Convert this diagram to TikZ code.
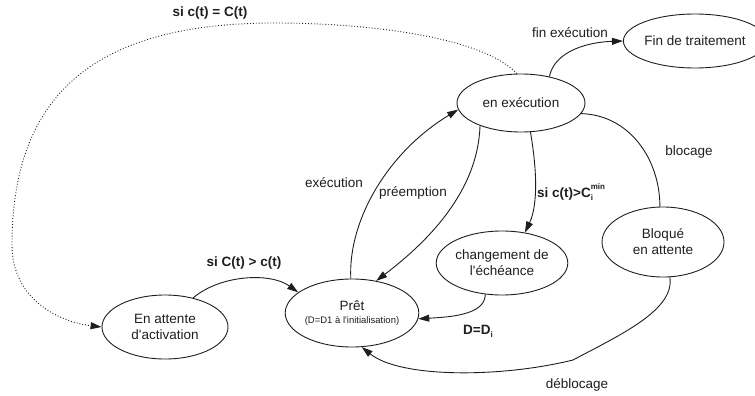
\documentclass[tikz,border=0pt]{standalone}
\usepackage{fontspec}
\setmainfont{Liberation Sans}[Ligatures=TeXOff]
\usetikzlibrary{shapes.geometric,arrows.meta}
\definecolor{ink}{HTML}{1E1E1E}
\begin{document}
\begin{tikzpicture}[x=1pt,y=-1pt,
  state/.style={ellipse,draw=ink,line width=0.9pt,inner sep=0pt,align=center,
    text=ink,font=\fontsize{13.5}{16}\selectfont},
  edge/.style={draw=ink,line width=0.9pt},
  arr/.style={edge,-{Triangle[length=11pt,width=7pt]}},
  lbl/.style={text=ink,font=\fontsize{13.5}{16}\selectfont,inner sep=0pt},
  blbl/.style={lbl,font=\fontsize{13.5}{16}\selectfont\bfseries}]
\useasboundingbox (0,0) rectangle (755,396);

% states
\node[state,minimum width=128pt,minimum height=58pt] (exec) at (521,103) {en exécution};
\node[state,minimum width=124pt,minimum height=54pt] (fin) at (695,41) {Fin de traitement};
\node[state,minimum width=126pt,minimum height=64pt] (att) at (165,327) {En attente\\d'activation};
\node[state,minimum width=116pt,minimum height=68pt] (pret) at (352,313)
  {Prêt\\[-3pt]{\fontsize{9.5}{11}\selectfont (D=D1 à l'initialisation)}};
\node[state,minimum width=118pt,minimum height=64pt] (chg) at (502,263) {changement de\\l'échéance};
\node[state,minimum width=122pt,minimum height=70pt] (bloq) at (663,242) {Bloqué\\en attente};

% transitions
\coordinate (top) at (275,23);
\coordinate (left) at (12,245);
\draw[edge,dotted,-{Triangle[length=11pt,width=7pt]}]
  (exec.98) .. controls (480,35) and (360,23) .. (top)
  .. controls (100,23) and (12,90) .. (left)
  .. controls (12,300) and (60,322) .. (att.180);
\node[blbl] (lcc) at (210,13) {si c(t) = C(t)};

\draw[arr] (exec.43) .. controls (555,50) and (590,42) .. (fin.180);
\node[lbl] (lfin) at (570,33) {fin exécution};

\draw[arr] (att.46) .. controls (220,275) and (270,272) .. (pret.159);
\node[blbl] (lact) at (244,263) {si C(t) > c(t)};

\draw[arr] (pret.92) .. controls (348,220) and (388,152) .. (exec.186);
\node[lbl] (lexe) at (334,183) {exécution};

\draw[arr] (exec.209) .. controls (478,190) and (430,240) .. (pret.53);
\node[lbl] (lpre) at (413,193) {préemption};

\draw[arr] (exec.288) .. controls (537,170) and (538,205) .. (chg.53);
\node[blbl,anchor=west] (lmin) at (537,192)
  {si c(t)>C\rlap{\raisebox{-0.45ex}{\fontsize{8}{9}\selectfont i}}\raisebox{1.1ex}{\fontsize{8}{9}\selectfont min}};

\draw[edge] (exec.350) .. controls (630,115) and (660,160) .. (bloq.95);
\node[lbl] (lblo) at (689,152) {blocage};

\draw[arr] (chg.242) .. controls (485,315) and (450,317) .. (pret.355);
\node[blbl] (ldd) at (478,331) {D=D\raisebox{-0.45ex}{\fontsize{8}{9}\selectfont i}};

\coordinate (bend) at (573,360);
\draw[arr] (bloq.281) .. controls (675,310) and (620,335) .. (bend)
  .. controls (500,378) and (400,378) .. (pret.286);
\node[lbl] (ldeb) at (577,385) {déblocage};
\end{tikzpicture}
\end{document}
